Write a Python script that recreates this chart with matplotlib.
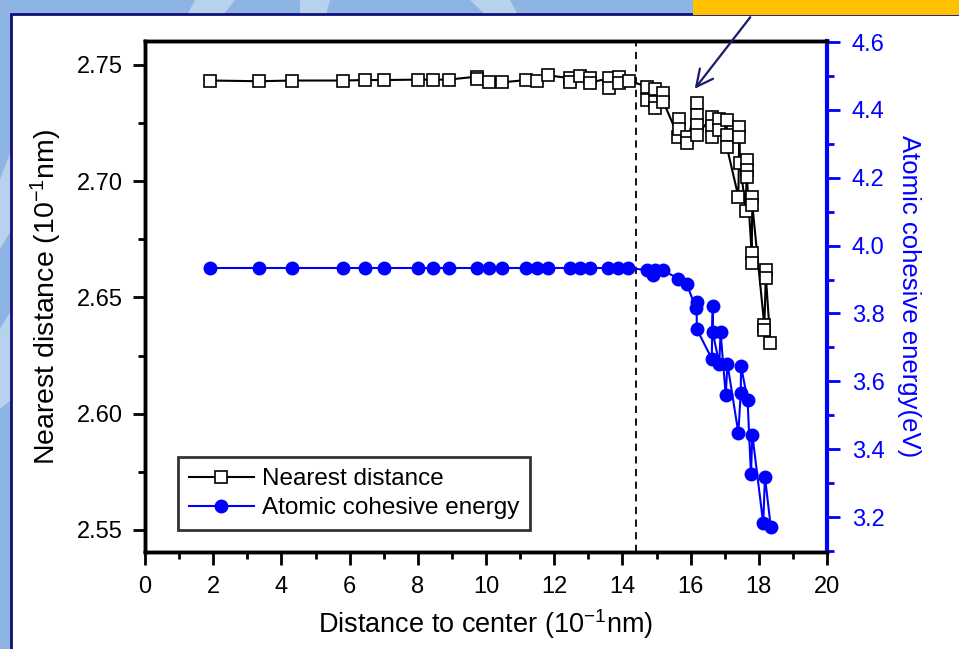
import matplotlib
matplotlib.use("Agg")
import matplotlib.pyplot as plt
from matplotlib.patches import Rectangle, Polygon
from matplotlib.ticker import MultipleLocator, FormatStrFormatter

plt.rcParams['font.family'] = ['Liberation Sans', 'DejaVu Sans']
plt.rcParams['mathtext.fontset'] = 'custom'
plt.rcParams['mathtext.rm'] = 'Liberation Sans'
plt.rcParams['mathtext.it'] = 'Liberation Sans:italic'
plt.rcParams['mathtext.bf'] = 'Liberation Sans:bold'

# ---- data: nearest distance (left axis) ----
nd_x = [1.92, 3.34, 4.32, 5.82, 6.45, 7.02, 8.02, 8.46, 8.91, 9.74, 9.74, 10.10, 10.46,
        11.17, 11.49, 11.83, 12.46, 12.46, 12.76, 13.05, 13.05, 13.62, 13.62, 13.91, 13.91,
        14.19, 14.71, 14.71, 14.96, 14.96, 14.96, 15.20, 15.20, 15.64, 15.67, 15.67, 15.89,
        15.89, 16.18, 16.18, 16.18, 16.18, 16.62, 16.62, 16.62, 16.84, 16.84, 17.06, 17.06,
        17.06, 17.40, 17.43, 17.43, 17.45, 17.62, 17.65, 17.65, 17.65, 17.79, 17.79, 17.81,
        17.81, 18.16, 18.16, 18.21, 18.21, 18.34]
nd_y = [2.7433, 2.7430, 2.7433, 2.7433, 2.7435, 2.7435, 2.7437, 2.7437, 2.7437, 2.7450, 2.7438,
        2.7428, 2.7425, 2.7435, 2.7432, 2.7455, 2.7443, 2.7428, 2.7453, 2.7443, 2.7424, 2.7443,
        2.7402, 2.7450, 2.7424, 2.7432, 2.7407, 2.7350, 2.7396, 2.7342, 2.7314, 2.7378, 2.7342,
        2.7192, 2.7267, 2.7224, 2.7189, 2.7163, 2.7335, 2.7285, 2.7242, 2.7199, 2.7275, 2.7238,
        2.7192, 2.7267, 2.7221, 2.7264, 2.7199, 2.7149, 2.6934, 2.7232, 2.7189, 2.7077, 2.6873,
        2.7092, 2.7046, 2.7020, 2.6690, 2.6647, 2.6934, 2.6898, 2.6382, 2.6360, 2.6619, 2.6583,
        2.6306]

# ---- data: atomic cohesive energy (right axis) ----
ce_x = [1.92, 3.34, 4.32, 5.82, 6.45, 7.02, 8.02, 8.46, 8.91, 9.74, 10.10, 10.46, 11.17,
        11.49, 11.83, 12.46, 12.76, 13.05, 13.58, 13.87, 14.16, 14.71, 14.91, 14.96, 15.20,
        15.63, 15.89, 16.15, 16.18, 16.18, 16.62, 16.65, 16.65, 16.84, 16.88, 17.03, 17.08,
        17.40, 17.47, 17.48, 17.67, 17.77, 17.81, 18.13, 18.18, 18.35]
ce_y = [3.934, 3.934, 3.934, 3.934, 3.934, 3.934, 3.934, 3.934, 3.934, 3.934, 3.934, 3.934,
        3.934, 3.934, 3.934, 3.934, 3.934, 3.934, 3.934, 3.934, 3.934, 3.928, 3.914, 3.928,
        3.928, 3.902, 3.887, 3.816, 3.835, 3.754, 3.667, 3.821, 3.744, 3.652, 3.744, 3.559,
        3.652, 3.448, 3.566, 3.644, 3.546, 3.326, 3.443, 3.181, 3.319, 3.172]

boundary_x = 14.4

W, H = 959, 649
fig = plt.figure(figsize=(W / 100, H / 100), dpi=100)
fig.patch.set_facecolor('#8DB4E2')

# decorative background stripes
for pts in [
    [(195, 649), (235, 649), (220, 630), (185, 630)],
    [(300, 649), (330, 649), (325, 630), (300, 630)],
    [(470, 649), (510, 649), (520, 630), (490, 630)],
    [(960, 649), (1000, 649), (990, 630), (955, 630)],
    [(0, 470), (12, 500), (12, 420), (0, 400)],
    [(0, 320), (12, 340), (12, 250), (0, 240)],
]:
    fig.patches.append(Polygon(pts, closed=True, transform=None,
                               facecolor='#B8D2EE', edgecolor='none', zorder=0))

# white panel with navy border
fig.patches.append(Rectangle((11, -5), 960, 645 - 5, transform=None,
                             facecolor='white', edgecolor='#10107A', lw=2.0, zorder=1))
# yellow box top right
fig.patches.append(Rectangle((693, 634), 270, 20, transform=None,
                             facecolor='#FFC000', edgecolor='none', zorder=2))

ax = fig.add_axes([145 / W, 1 - 552 / H, (827 - 145) / W, (552 - 41) / H])
ax.set_zorder(3)
ax.patch.set_alpha(0)
ax2 = ax.twinx()

ax.set_xlim(0, 20)
ax.set_ylim(2.5405, 2.7603)
ax2.set_ylim(3.097, 4.603)

ax.axvline(boundary_x, color='black', lw=1.3, ls=(0, (4, 3)), zorder=1)

l1, = ax.plot(nd_x, nd_y, color='black', lw=1.5, marker='s', ms=8.5, mfc='white',
              mec='black', mew=1.2, zorder=3, label='Nearest distance')
l2, = ax2.plot(ce_x, ce_y, color='#0000FF', lw=1.5, marker='o', ms=9, mfc='#0000FF',
               mec='#0000FF', zorder=3, label='Atomic cohesive energy')

fs = 17
ax.xaxis.set_major_locator(MultipleLocator(2))
ax.xaxis.set_minor_locator(MultipleLocator(1))
ax.yaxis.set_major_locator(MultipleLocator(0.05))
ax.yaxis.set_minor_locator(MultipleLocator(0.025))
ax2.yaxis.set_major_locator(MultipleLocator(0.2))
ax2.yaxis.set_minor_locator(MultipleLocator(0.1))
ax.yaxis.set_major_formatter(FormatStrFormatter('%.2f'))
ax2.yaxis.set_major_formatter(FormatStrFormatter('%.1f'))

ax.tick_params(axis='both', which='major', direction='out', length=9, width=2,
               labelsize=fs, pad=7)
ax.tick_params(axis='both', which='minor', direction='out', length=5, width=2)
ax.tick_params(axis='y', which='both', right=False)
ax.tick_params(axis='x', which='major', pad=8)
ax2.tick_params(axis='y', which='major', direction='out', length=9, width=2,
                labelsize=fs, colors='#0000FF', pad=9)
ax2.tick_params(axis='y', which='minor', direction='out', length=5, width=2,
                colors='#0000FF')

for s in ['left', 'bottom', 'top']:
    ax.spines[s].set_linewidth(2.5)
    ax2.spines[s].set_linewidth(2.5)
ax.spines['right'].set_visible(False)
ax2.spines['right'].set_color('#0000FF')
ax2.spines['right'].set_linewidth(3)

ax.set_xlabel('Distance to center (10$^{-1}$nm)', fontsize=19.5, labelpad=7)
ax.set_ylabel('Nearest distance (10$^{-1}$nm)', fontsize=20.5, labelpad=9)
ax2.set_ylabel('Atomic cohesive energy(eV)', fontsize=18.5, color='#0000FF',
               rotation=270, labelpad=26)

leg = ax.legend(handles=[l1, l2], loc='lower left', bbox_to_anchor=(0.048, 0.043),
                fontsize=17.5, frameon=True, fancybox=False, handlelength=2.7,
                handletextpad=0.3, borderpad=0.45, labelspacing=0.28, borderaxespad=0)
leg.get_frame().set_edgecolor('black')
leg.get_frame().set_linewidth(2)

# arrow pointing to the anomaly
fig.add_artist(matplotlib.patches.FancyArrowPatch(
    posA=(752, H - 15), posB=(693, H - 91), transform=None,
    arrowstyle='->,head_length=12,head_width=6', color='#1A1A6E', lw=1.6,
    mutation_scale=1, zorder=10))

fig.savefig('out.png', dpi=100, facecolor=fig.get_facecolor())
